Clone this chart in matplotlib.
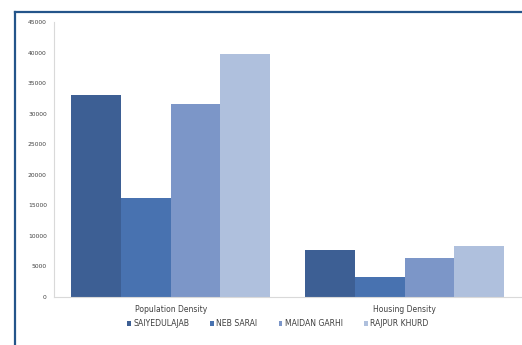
import matplotlib
matplotlib.use("Agg")
import matplotlib.pyplot as plt
import numpy as np
from matplotlib.lines import Line2D

# chart values
categories = ["Population Density", "Housing Density"]
areas = ["SAIYEDULAJAB", "NEB SARAI", "MAIDAN GARHI", "RAJPUR KHURD"]
saiyedulajab = [33000, 7700]
neb_sarai = [16200, 3300]
maidan_garhi = [31600, 6400]
rajpur_khurd = [39800, 8400]
y_ticks = list(range(0, 45001, 5000))

series = [saiyedulajab, neb_sarai, maidan_garhi, rajpur_khurd]
colors = ["#3d5f94", "#4872b0", "#7c96c8", "#afc0dd"]

fig = plt.figure(figsize=(5.22, 3.45), dpi=100)
fig.patch.set_facecolor("white")
ax = fig.add_axes([0.103, 0.139, 0.896, 0.797])

x = np.arange(len(categories))
width = 0.2125
for i, (vals, col) in enumerate(zip(series, colors)):
    offs = (i - 1.5) * width
    ax.bar(x + offs, vals, width, color=col, label=areas[i], linewidth=0)

ax.set_xlim(-0.5, 1.5)
ax.set_ylim(0, 45000)
ax.set_yticks(y_ticks)
ax.set_yticklabels([str(v) for v in y_ticks], fontsize=4.3, color="#404040")
ax.set_xticks(x)
ax.set_xticklabels(categories, fontsize=5.5, color="#404040")
ax.tick_params(axis="both", length=0, pad=5)
ax.tick_params(axis="x", pad=6)

for side in ["top", "right"]:
    ax.spines[side].set_visible(False)
ax.spines["left"].set_color("#d9d9d9")
ax.spines["bottom"].set_color("#d9d9d9")
ax.spines["left"].set_linewidth(0.8)
ax.spines["bottom"].set_linewidth(0.8)

leg = fig.legend(loc="center", bbox_to_anchor=(0.532, 0.062), ncol=4,
                 frameon=False, fontsize=5.6, handlelength=0.5,
                 handleheight=0.5, handletextpad=0.3, columnspacing=2.7)
for t in leg.get_texts():
    t.set_color("#404040")

# blue frame along left and top
fig.add_artist(Line2D([0.028, 0.028], [0.0, 0.966], color="#24558a", lw=1.6,
                      transform=fig.transFigure))
fig.add_artist(Line2D([0.028, 1.0], [0.966, 0.966], color="#24558a", lw=1.6,
                      transform=fig.transFigure))

fig.savefig("out.png", dpi=100)
